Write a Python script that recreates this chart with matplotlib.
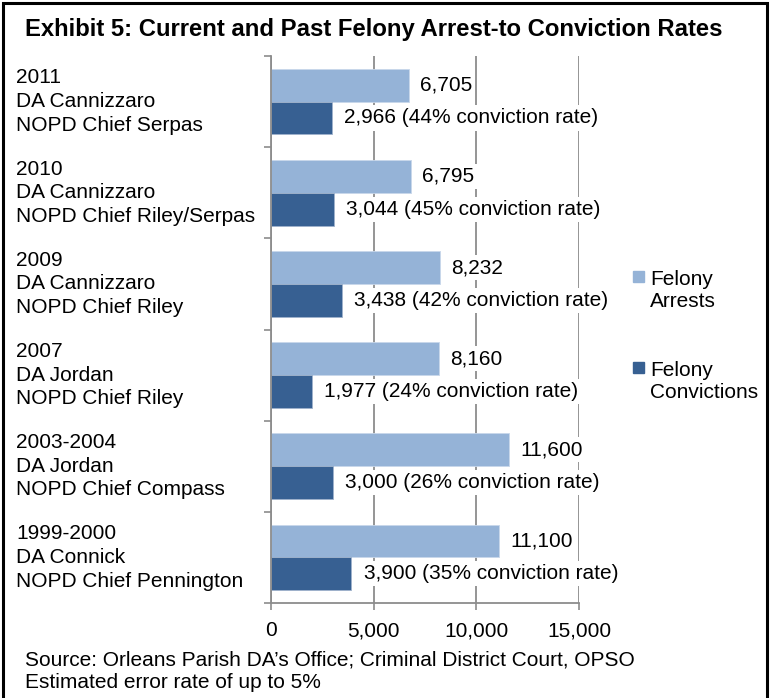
import matplotlib
matplotlib.use("Agg")
import matplotlib.pyplot as plt
from matplotlib.patches import Rectangle
from matplotlib.transforms import blended_transform_factory

# ---- data ----
categories = [
    "2011\nDA Cannizzaro\nNOPD Chief Serpas",
    "2010\nDA Cannizzaro\nNOPD Chief Riley/Serpas",
    "2009\nDA Cannizzaro\nNOPD Chief Riley",
    "2007\nDA Jordan\nNOPD Chief Riley",
    "2003-2004\nDA Jordan\nNOPD Chief Compass",
    "1999-2000\nDA Connick\nNOPD Chief Pennington",
]
arrests = [6705, 6795, 8232, 8160, 11600, 11100]
convictions = [2966, 3044, 3438, 1977, 3000, 3900]
conviction_rates = [44, 45, 42, 24, 26, 35]
series_names = ["Felony\nArrests", "Felony\nConvictions"]
x_ticks = [0, 5000, 10000, 15000]
title = "Exhibit 5: Current and Past Felony Arrest-to Conviction Rates"
source_lines = ["Source: Orleans Parish DA\u2019s Office; Criminal District Court, OPSO",
                "Estimated error rate of up to 5%"]

# ---- style ----
plt.rcParams["font.family"] = ["Liberation Sans", "DejaVu Sans"]
C_ARR = "#95B3D7"
C_CONV = "#376092"
GRID = "#8C8C8C"
FS = 15

W, H = 772, 698
fig = plt.figure(figsize=(W / 100, H / 100), dpi=100)
ax = fig.add_axes([271 / W, 1 - 603 / H, (579 - 271) / W, (603 - 56) / H])

n = len(categories)
centers = [n - i - 0.5 for i in range(n)]
bh = 0.36

ax.barh([c + bh / 2 for c in centers], arrests, height=bh, color=C_ARR,
        edgecolor="#C8D7EA", linewidth=0.6, zorder=2)
ax.barh([c - bh / 2 for c in centers], convictions, height=bh, color=C_CONV,
        edgecolor="#9FB2CC", linewidth=0.6, zorder=2)

box = dict(boxstyle="square,pad=0.15", fc="white", ec="none")
for c, a, v, r in zip(centers, arrests, convictions, conviction_rates):
    ax.annotate(f"{a:,}", xy=(a, c + bh / 2), xytext=(8, 0), textcoords="offset points",
                ha="left", va="center", fontsize=FS, bbox=box, zorder=3)
    ax.annotate(f"{v:,} ({r}% conviction rate)", xy=(v, c - bh / 2), xytext=(9, 0),
                textcoords="offset points", ha="left", va="center", fontsize=FS,
                bbox=box, zorder=3)

ax.set_xlim(0, 15000)
ax.set_ylim(0, n)
ax.set_xticks(x_ticks)
ax.set_xticklabels([f"{t:,}" for t in x_ticks])
ax.set_yticks(range(n + 1))
ax.set_yticklabels([])
ax.tick_params(axis="x", direction="out", length=5, width=1.2, color=GRID,
               labelsize=FS, pad=8)
ax.tick_params(axis="y", direction="out", length=5, width=1.2, color=GRID)
ax.xaxis.grid(True, color=GRID, linewidth=1.3)
ax.set_axisbelow(True)
for s in ["top", "right"]:
    ax.spines[s].set_visible(False)
for s in ["left", "bottom"]:
    ax.spines[s].set_color(GRID)
    ax.spines[s].set_linewidth(1.3)

tr = blended_transform_factory(fig.transFigure, ax.transData)
for c, lab in zip(centers, categories):
    ax.text(16 / W, c, lab, transform=tr, ha="left", va="center", fontsize=FS,
            linespacing=1.31)

# legend
leg_y = [271, 362]
for yy, col, name in zip(leg_y, [C_ARR, C_CONV], series_names):
    fig.patches.append(Rectangle((633 / W, 1 - (yy + 11) / H), 11 / W, 11 / H,
                                 transform=fig.transFigure, color=col, figure=fig))
    fig.text(650 / W, 1 - (yy - 1) / H, name, ha="left", va="top", fontsize=FS,
             linespacing=1.2)

fig.text(25 / W, 1 - 36 / H, title, ha="left", va="baseline", fontsize=17.2,
         fontweight="bold")
fig.text(25 / W, 1 - 665 / H, source_lines[0], ha="left", va="baseline", fontsize=FS)
fig.text(25 / W, 1 - 688 / H, source_lines[1], ha="left", va="baseline", fontsize=FS)

fig.patches.append(Rectangle((3 / W, -0.05), (767 - 3) / W, 1.05 - 3 / H,
                             transform=fig.transFigure, fill=False, ec="black",
                             lw=2.2, figure=fig))

fig.savefig("out.png", dpi=100)
